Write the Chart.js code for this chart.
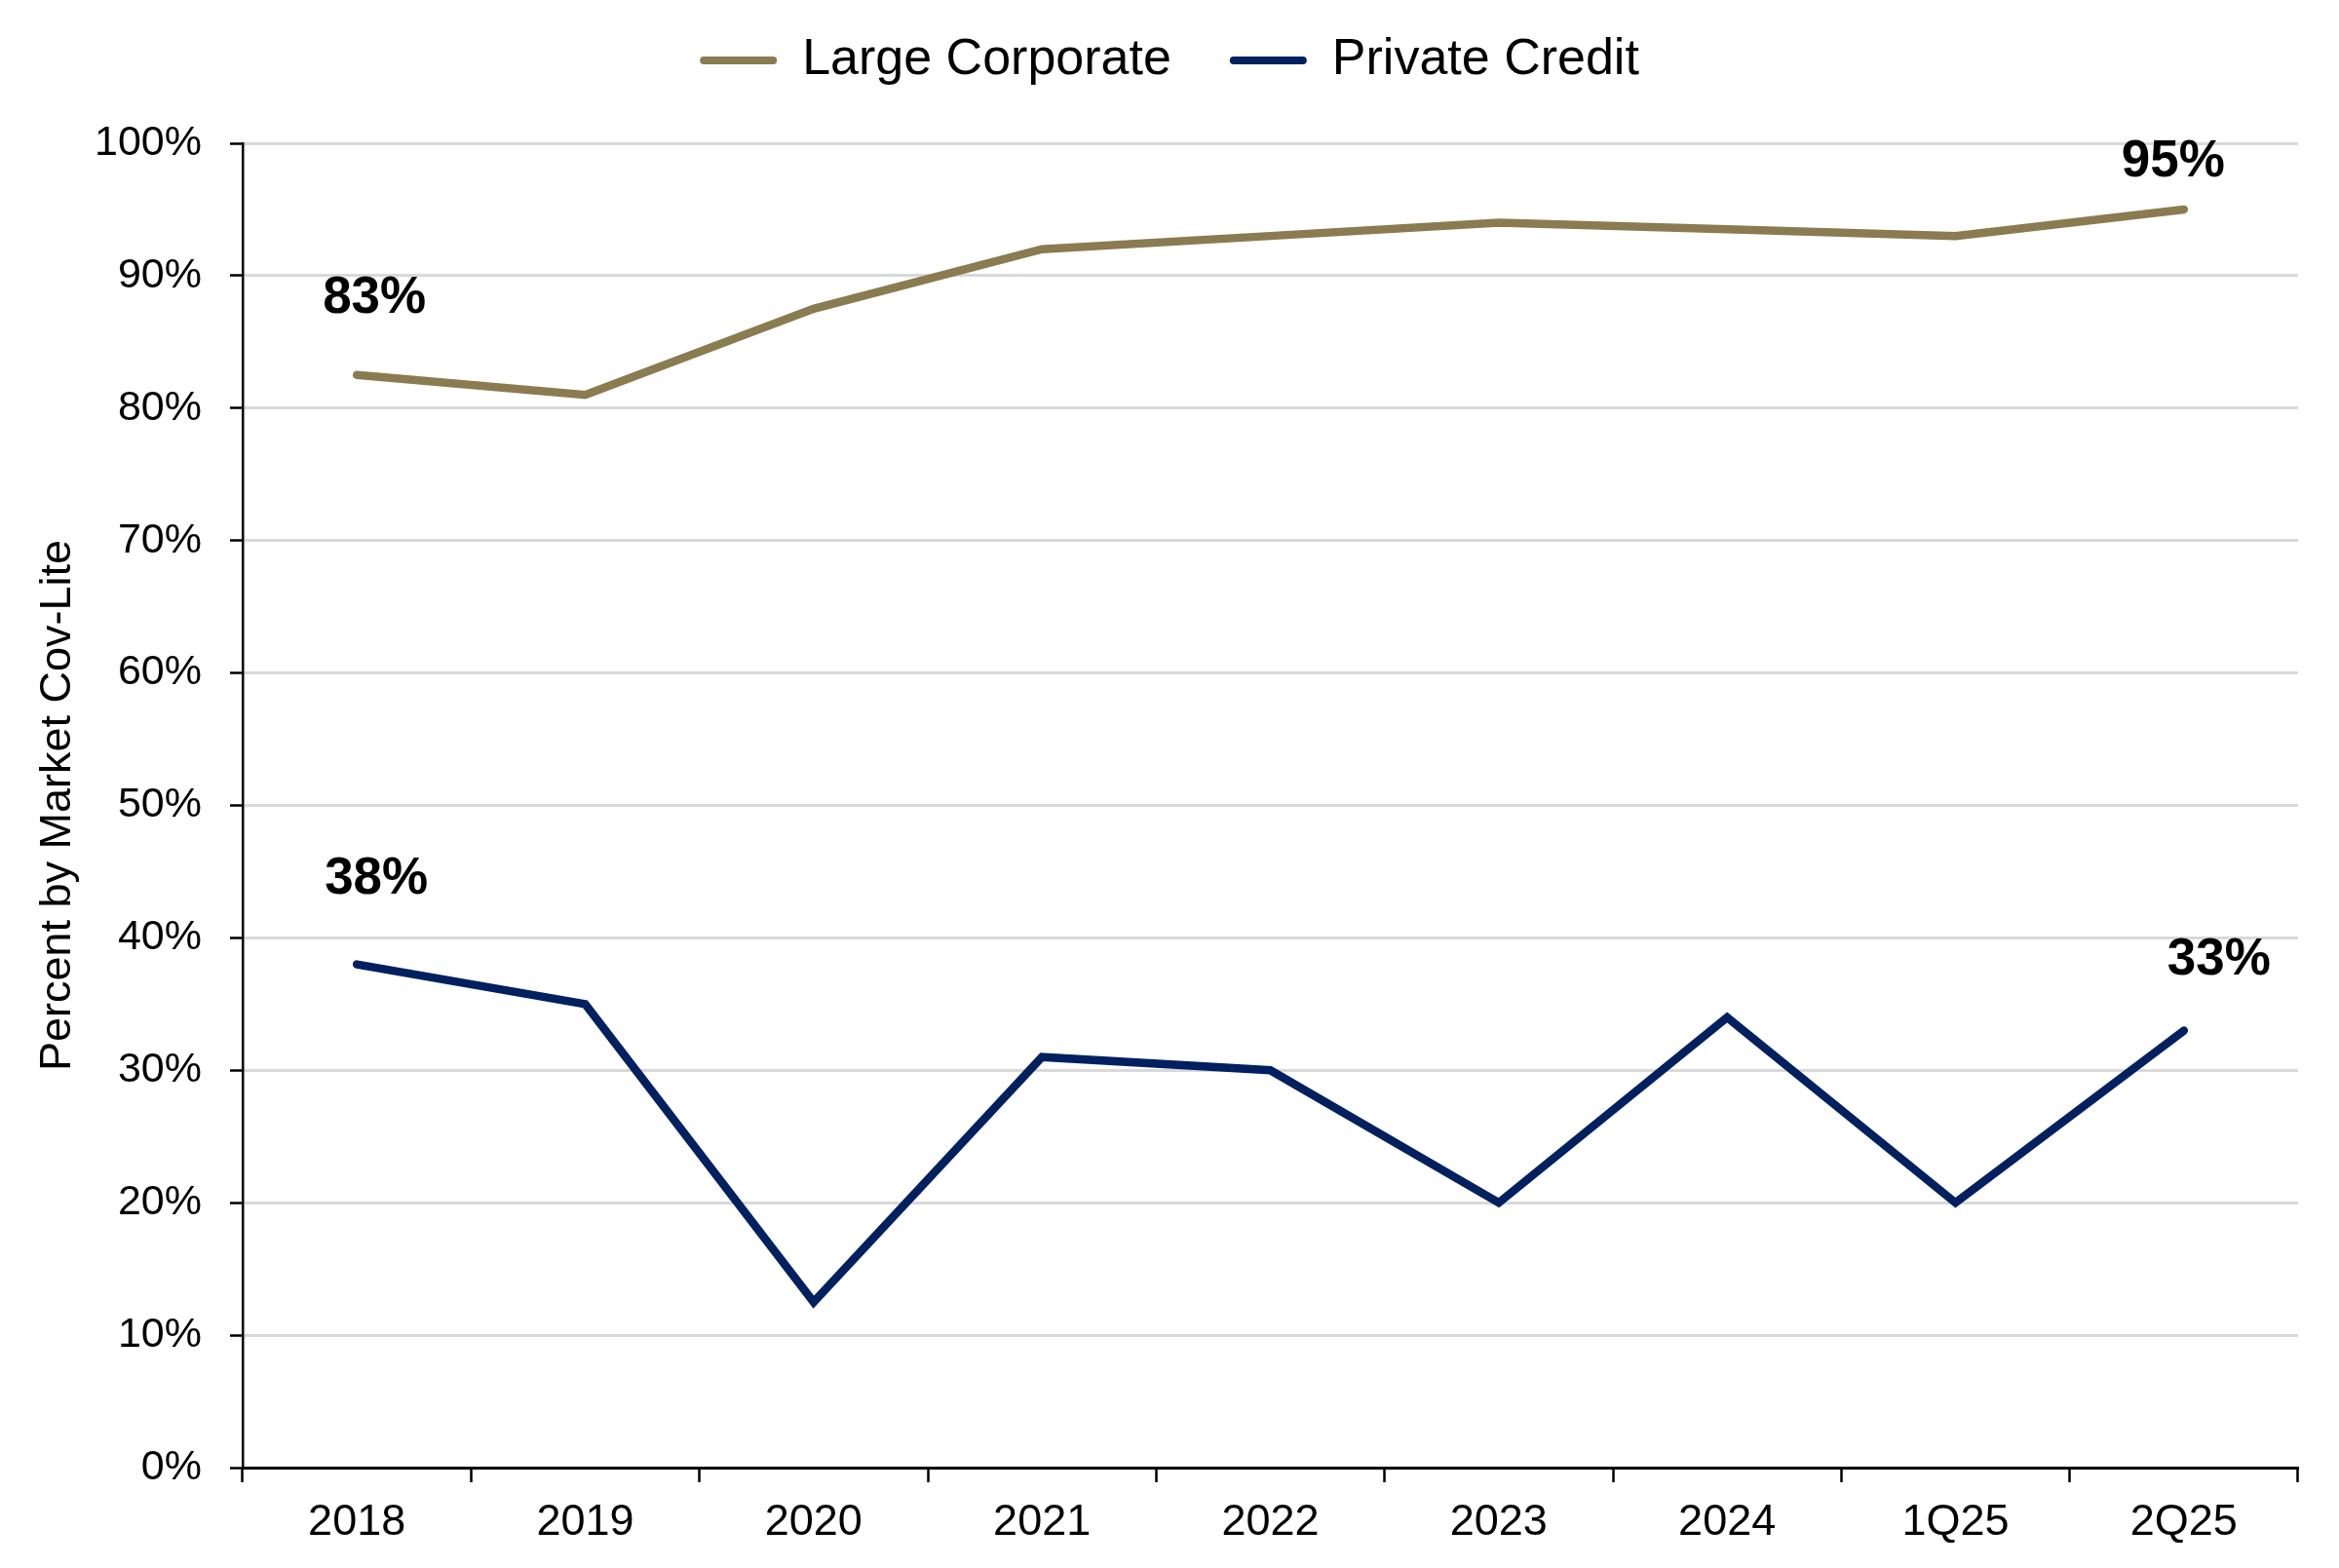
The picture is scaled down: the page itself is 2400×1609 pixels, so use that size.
<!DOCTYPE html>
<html>
<head>
<meta charset="utf-8">
<script src="https://cdn.jsdelivr.net/npm/chart.js@4.4.1/dist/chart.umd.min.js"></script>
<style>
  html, body { margin: 0; padding: 0; background: #fff; }
  #chart { display: block; }
</style>
</head>
<body>
<canvas id="chart" width="2400" height="1609"></canvas>
<script>
// chart data
const categories = ["2018", "2019", "2020", "2021", "2022", "2023", "2024", "1Q25", "2Q25"];
const largeCorporate = [82.5, 81, 87.5, 92, 93, 94, 93.5, 93, 95];
const privateCredit = [38, 35, 12.5, 31, 30, 20, 34, 20, 33];
const yTicks = [0, 10, 20, 30, 40, 50, 60, 70, 80, 90, 100];
const labelledPoints = [0, 8];

const FONT = "'Liberation Sans', Arial, sans-serif";

// bold value labels above first and last points
const valueLabels = {
  id: "valueLabels",
  afterDatasetsDraw(chart) {
    const { ctx } = chart;
    // small nudges so labels sit like the original
    const nudge = [
      [[18, -78], [-11, -49]],
      [[20, -87], [36, -72]],
    ];
    ctx.save();
    ctx.font = "bold 53px " + FONT;
    ctx.fillStyle = "#000";
    ctx.textAlign = "center";
    ctx.textBaseline = "middle";
    chart.data.datasets.forEach((ds, d) => {
      const meta = chart.getDatasetMeta(d);
      labelledPoints.forEach((i, k) => {
        const pt = meta.data[i];
        ctx.fillText(Math.round(ds.data[i]) + "%", pt.x + nudge[d][k][0], pt.y + nudge[d][k][1]);
      });
    });
    ctx.restore();
  },
};

new Chart(document.getElementById("chart"), {
  type: "line",
  data: {
    labels: categories,
    datasets: [
      {
        label: "Large Corporate",
        data: largeCorporate,
        borderColor: "#8a7b51",
        backgroundColor: "#8a7b51",
        borderWidth: 8.5,
        borderCapStyle: "round",
        borderJoinStyle: "miter",
        pointRadius: 0,
        tension: 0,
      },
      {
        label: "Private Credit",
        data: privateCredit,
        borderColor: "#002060",
        backgroundColor: "#002060",
        borderWidth: 8.5,
        borderCapStyle: "round",
        borderJoinStyle: "miter",
        pointRadius: 0,
        tension: 0,
      },
    ],
  },
  options: {
    responsive: false,
    devicePixelRatio: 1,
    animation: false,
    layout: { padding: { top: -24, right: 0, bottom: 0, left: 0 } },
    plugins: {
      legend: {
        position: "top",
        labels: {
          font: { family: FONT, size: 52 },
          color: "#000",
          boxWidth: 79,
          boxHeight: 8,
          padding: 60,
          useBorderRadius: true,
          borderRadius: 4,
          // plain filled bar, no outline
          generateLabels: (chart) =>
            Chart.defaults.plugins.legend.labels.generateLabels(chart).map((l) => ({ ...l, lineWidth: 0 })),
        },
      },
      // empty spacer between legend and plot
      subtitle: {
        display: true,
        text: "",
        weight: 500,
        font: { size: 49, lineHeight: 1 },
        padding: 0,
      },
      tooltip: { enabled: false },
    },
    scales: {
      x: {
        type: "category",
        offset: true,
        grid: {
          offset: true,
          drawOnChartArea: false,
          drawTicks: true,
          tickLength: 15,
          tickColor: "#000",
          tickWidth: 2.5,
        },
        border: { color: "#000", width: 3 },
        ticks: {
          font: { family: FONT, size: 45 },
          color: "#000",
          padding: 15,
          maxRotation: 0,
        },
        afterFit(scale) { scale.height = 103; },
      },
      y: {
        min: 0,
        max: 100,
        afterBuildTicks(scale) { scale.ticks = yTicks.map(v => ({ value: v })); },
        grid: {
          color: (c) => (c.tick && c.tick.value === 0 ? "rgba(0,0,0,0)" : "#d9d9d9"),
          lineWidth: 3,
          drawTicks: true,
          tickLength: 13,
          tickColor: "#000",
          tickWidth: 2.5,
        },
        border: { color: "#000", width: 2.5 },
        ticks: {
          font: { family: FONT, size: 43 },
          color: "#000",
          padding: 29,
          callback: (v) => v + "%",
        },
        title: {
          display: true,
          text: "Percent by Market Cov-Lite",
          font: { family: FONT, size: 45 },
          color: "#000",
          padding: { top: 33, bottom: 0 },
        },
        afterFit(scale) { scale.width = 249; },
      },
      // empty right margin
      yRight: {
        position: "right",
        grid: { display: false },
        border: { display: false },
        ticks: { display: false },
        afterFit(scale) { scale.width = 42; },
      },
    },
  },
  plugins: [valueLabels],
});
</script>
</body>
</html>
